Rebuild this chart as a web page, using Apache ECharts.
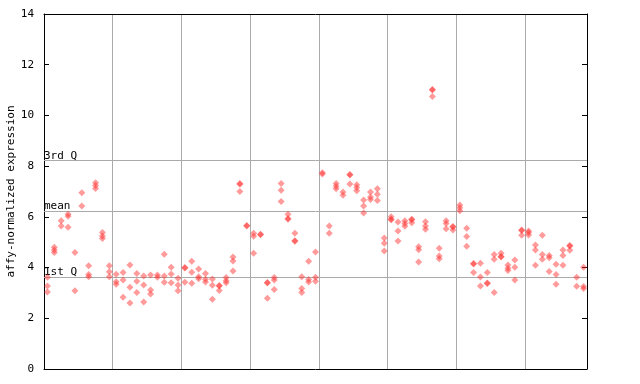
<!DOCTYPE html>
<html>
<head>
<meta charset="utf-8">
<script src="https://cdn.jsdelivr.net/npm/echarts@6/dist/echarts.min.js"></script>
<style>html,body{margin:0;padding:0;background:#fff}#c{width:640px;height:384px}</style>
</head>
<body>
<div id="c"></div>
<script>
// sample positions (79 samples, vertical separators every 10)
var categories = ["1","2","3","4","5","6","7","8","9","10","11","12","13","14","15","16","17","18","19","20",
"21","22","23","24","25","26","27","28","29","30","31","32","33","34","35","36","37","38","39","40",
"41","42","43","44","45","46","47","48","49","50","51","52","53","54","55","56","57","58","59","60",
"61","62","63","64","65","66","67","68","69","70","71","72","73","74","75","76","77","78","79"];

// replicate values per sample (null = no replicate)
var rep1 = [3.62,4.80,5.85,6.10,4.59,6.95,4.07,7.35,5.38,4.07,
            3.74,3.81,4.10,3.77,3.67,3.71,3.71,4.53,4.01,3.58,
            4.00,4.25,3.94,3.77,3.55,3.29,3.61,4.42,7.32,5.66,
            5.35,5.31,3.41,3.61,7.32,6.10,5.35,3.64,4.25,4.61,
            7.74,5.64,7.32,6.98,7.67,7.27,6.66,6.98,7.11,5.17,
            6.00,5.80,5.85,5.91,4.82,5.81,11.02,4.76,5.85,5.62,
            6.47,5.55,4.16,4.17,3.81,4.52,4.56,4.10,4.30,5.48,
            5.44,4.89,5.27,4.48,4.13,4.69,4.87,3.62,4.01];
var rep2 = [3.27,4.69,5.64,6.02,3.09,6.43,3.73,7.24,5.25,3.84,
            3.44,3.51,3.22,3.46,3.31,3.12,3.62,3.67,3.75,3.31,
            3.98,3.82,3.64,3.54,3.30,3.27,3.48,4.26,7.29,5.64,
            5.24,5.29,3.39,3.51,7.05,5.94,5.06,3.17,3.53,3.62,
            7.69,5.35,7.21,6.85,7.65,7.16,6.43,6.78,6.89,4.96,
            5.91,5.44,5.74,5.89,4.70,5.64,11.00,4.46,5.74,5.60,
            6.36,5.23,4.14,3.63,3.39,4.33,4.44,3.97,4.01,5.46,
            5.38,4.69,4.52,4.39,3.73,4.48,4.85,3.26,3.25];
var rep3 = [3.04,4.59,null,5.59,null,null,3.64,7.12,5.15,3.64,
            3.34,2.83,2.60,3.02,2.64,2.96,null,3.42,3.40,3.09,
            3.42,3.38,3.56,3.43,2.75,3.10,3.40,3.86,7.00,null,
            4.56,null,2.79,3.14,6.61,5.91,5.04,3.02,3.43,3.46,
            null,null,7.11,null,7.30,7.03,6.15,6.68,6.65,4.65,
            5.89,5.05,5.63,5.77,4.22,5.51,10.75,4.35,5.53,5.48,
            6.24,4.84,3.81,3.27,3.37,3.02,4.42,3.88,3.51,5.27,
            5.28,4.09,4.33,3.85,3.34,4.09,4.68,null,3.17];

// reference lines
var refNames = ["3rd Q","mean","1st Q"];
var refValues = [8.22,6.23,3.63];
var yTicks = [0,2,4,6,8,10,12,14];

var FONT = "'DejaVu Sans Mono', monospace";
var pointColor = 'rgba(255,45,45,0.6)';

function toPairs(arr){
  var out = [];
  for (var i = 0; i < arr.length; i++) if (arr[i] !== null) out.push([i, arr[i]]);
  return out;
}

var markData = refNames.map(function(n, k){ return {yAxis: refValues[k], label: {formatter: n}}; });

function scatter(arr, withMark){
  var s = {
    type: 'scatter',
    xAxisIndex: 0, yAxisIndex: 0,
    symbol: 'diamond',
    symbolSize: 7,
    itemStyle: {color: pointColor},
    silent: true,
    data: toPairs(arr),
    z: 3
  };
  if (withMark) {
    s.markLine = {
      silent: true, symbol: 'none', animation: false,
      lineStyle: {color: '#aaaaaa', width: 1, type: 'solid'},
      label: {show: true, position: 'insideStartTop', distance: [0, -1], color: '#000',
              fontFamily: FONT, fontSize: 11, padding: 0},
      data: markData,
      z: 1
    };
  }
  return s;
}

var chart = echarts.init(document.getElementById('c'), null, {renderer: 'canvas'});
chart.setOption({
  animation: false,
  backgroundColor: '#ffffff',
  grid: {left: 44, right: 53, top: 14, bottom: 15, containLabel: false, outerBoundsMode: 'none'},
  xAxis: [{
    type: 'category', data: categories, boundaryGap: true, position: 'bottom',
    axisLine: {show: true, lineStyle: {color: '#000', width: 1}},
    axisTick: {show: false}, axisLabel: {show: false},
    splitLine: {show: true, interval: function(i){ return i > 0 && i % 10 === 0; },
                lineStyle: {color: '#aaaaaa', width: 1}}
  }, {
    type: 'category', data: categories, boundaryGap: true, position: 'top',
    axisLine: {show: true, onZero: false, lineStyle: {color: '#000', width: 1}},
    axisTick: {show: false}, axisLabel: {show: false}, splitLine: {show: false}
  }],
  yAxis: [{
    type: 'value', min: yTicks[0], max: yTicks[yTicks.length-1], interval: 2, position: 'left',
    name: 'affy-normalized expression', nameLocation: 'middle', nameGap: 27, nameMoveOverlap: false,
    nameTextStyle: {fontFamily: FONT, fontSize: 11, color: '#000'},
    axisLine: {show: true, lineStyle: {color: '#000', width: 1}},
    axisTick: {show: true, inside: true, length: 5, lineStyle: {color: '#000'}},
    axisLabel: {show: true, margin: 10, fontFamily: FONT, fontSize: 11, color: '#000'},
    splitLine: {show: false}
  }, {
    type: 'value', min: yTicks[0], max: yTicks[yTicks.length-1], interval: 2, position: 'right',
    axisLine: {show: true, lineStyle: {color: '#000', width: 1}},
    axisTick: {show: true, inside: true, length: 5, lineStyle: {color: '#000'}},
    axisLabel: {show: false}, splitLine: {show: false}
  }],
  series: [scatter(rep1, true), scatter(rep2, false), scatter(rep3, false)]
});
</script>
</body>
</html>
